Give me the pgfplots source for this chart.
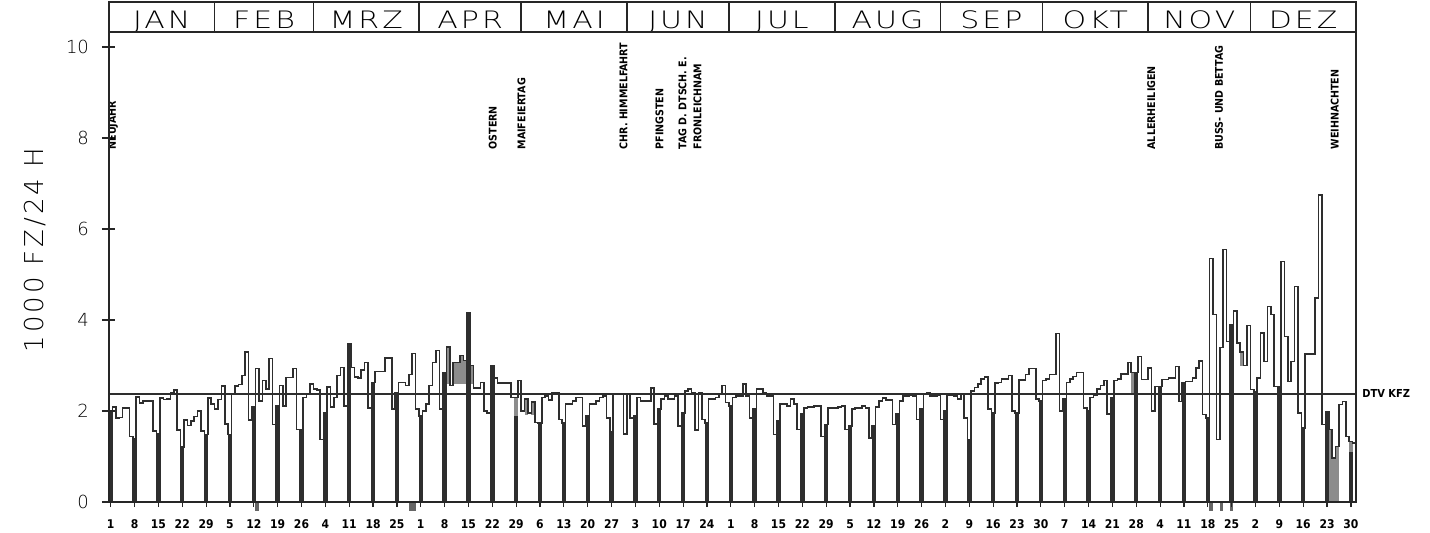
\documentclass[border=0pt]{standalone}
\usepackage{fontspec}
\usepackage{pgfplots}
\usepackage{pgfplotstable}
\pgfplotsset{compat=1.18}
\setmainfont{DejaVu Sans}
\IfFontExistsTF{DejaVu Sans ExtraLight}{\def\thinname{DejaVu Sans ExtraLight}}{\def\thinname{DejaVu Sans}}
\newfontfamily\thinf{\thinname}
\newfontfamily\thinw{\thinname}[LetterSpace=10]
\newfontfamily\thinl{\thinname}[LetterSpace=12]
\newfontfamily\cond{DejaVu Sans Condensed}

% daily values (1000 Kfz / 24 h), 1984, one line per week (Sun..Sat)
\pgfplotstableread[row sep=\\]{
v\\
1.96\\2.09\\1.85\\1.86\\2.06\\2.06\\1.44\\
1.40\\2.31\\2.18\\2.22\\2.22\\2.22\\1.56\\
1.50\\2.28\\2.25\\2.26\\2.40\\2.46\\1.58\\
1.21\\1.80\\1.68\\1.78\\1.88\\2.00\\1.56\\
1.48\\2.28\\2.15\\2.05\\2.25\\2.55\\1.72\\
1.48\\2.38\\2.55\\2.58\\2.78\\3.30\\1.80\\
2.10\\2.93\\2.22\\2.67\\2.48\\3.15\\1.70\\
2.11\\2.56\\2.11\\2.74\\2.74\\2.93\\1.59\\
1.59\\2.30\\2.37\\2.59\\2.48\\2.46\\1.37\\
1.96\\2.53\\2.09\\2.30\\2.78\\2.96\\2.11\\
3.48\\2.96\\2.75\\2.73\\2.90\\3.07\\2.07\\
2.63\\2.87\\2.87\\2.87\\3.17\\3.17\\2.04\\
2.41\\2.63\\2.63\\2.56\\2.80\\3.26\\2.04\\
1.89\\2.00\\2.15\\2.56\\3.07\\3.33\\2.04\\
2.85\\3.41\\2.56\\3.07\\3.07\\3.22\\3.11\\
4.15\\3.00\\2.50\\2.50\\2.63\\2.00\\1.96\\
3.00\\2.72\\2.62\\2.62\\2.62\\2.62\\2.30\\
2.30\\2.67\\2.00\\2.26\\1.95\\2.20\\1.75\\
1.74\\2.30\\2.33\\2.24\\2.39\\2.39\\1.81\\
1.74\\2.15\\2.15\\2.22\\2.30\\2.30\\1.67\\
1.89\\2.15\\2.15\\2.22\\2.30\\2.33\\1.85\\
1.55\\2.36\\2.36\\2.36\\1.50\\2.36\\1.85\\
1.89\\2.30\\2.22\\2.22\\2.22\\2.50\\1.72\\
2.04\\2.26\\2.33\\2.26\\2.26\\2.33\\1.67\\
1.96\\2.44\\2.48\\2.41\\1.58\\2.41\\1.81\\
1.74\\2.26\\2.26\\2.30\\2.37\\2.56\\2.19\\
2.11\\2.30\\2.33\\2.33\\2.59\\2.33\\1.85\\
2.04\\2.48\\2.48\\2.41\\2.33\\2.33\\1.48\\
1.78\\2.15\\2.15\\2.11\\2.26\\2.15\\1.59\\
1.93\\2.07\\2.09\\2.09\\2.11\\2.11\\1.44\\
1.70\\2.07\\2.06\\2.06\\2.09\\2.11\\1.59\\
1.67\\2.04\\2.07\\2.07\\2.11\\2.07\\1.41\\
1.67\\2.09\\2.22\\2.28\\2.24\\2.24\\1.70\\
1.93\\2.22\\2.33\\2.33\\2.35\\2.33\\1.81\\
2.04\\2.37\\2.41\\2.33\\2.33\\2.35\\1.81\\
2.00\\2.35\\2.35\\2.33\\2.26\\2.37\\1.85\\
1.37\\2.44\\2.52\\2.59\\2.70\\2.75\\2.05\\
1.96\\2.61\\2.63\\2.70\\2.70\\2.78\\2.00\\
1.96\\2.68\\2.68\\2.80\\2.93\\2.93\\2.26\\
2.22\\2.67\\2.70\\2.80\\2.80\\3.70\\2.00\\
2.26\\2.63\\2.70\\2.76\\2.85\\2.85\\2.07\\
2.00\\2.30\\2.35\\2.48\\2.56\\2.67\\1.93\\
2.30\\2.67\\2.70\\2.81\\2.81\\3.07\\2.85\\
2.85\\3.20\\2.69\\2.69\\2.95\\2.00\\2.54\\
2.54\\2.69\\2.69\\2.72\\2.72\\2.98\\2.21\\
2.62\\2.65\\2.65\\2.72\\2.94\\3.10\\1.92\\
1.85\\5.35\\4.12\\1.37\\3.40\\5.55\\3.53\\
3.90\\4.20\\3.50\\3.30\\3.00\\3.88\\2.47\\
2.43\\2.72\\3.71\\3.09\\4.30\\4.12\\2.54\\
2.54\\5.29\\3.64\\2.65\\3.09\\4.74\\1.96\\
1.63\\3.25\\3.25\\3.25\\4.48\\6.75\\1.70\\
1.99\\1.59\\0.97\\1.22\\2.14\\2.21\\1.44\\
1.33\\1.30\\1.30\\
}\daily

% Sundays (dark bars)
\pgfplotstableread[row sep=\\]{
s\\
1.96\\1.40\\1.50\\1.21\\1.48\\1.48\\2.10\\2.11\\1.59\\1.96\\3.48\\2.63\\2.41\\1.89\\
2.85\\4.15\\3.00\\1.89\\1.74\\1.74\\1.89\\1.55\\1.89\\2.04\\1.96\\1.74\\2.11\\2.04\\
1.78\\1.93\\1.70\\1.67\\1.67\\1.93\\2.04\\2.00\\1.37\\1.96\\1.96\\2.22\\2.26\\2.00\\
2.30\\2.85\\2.54\\2.62\\1.85\\3.90\\2.43\\2.54\\1.63\\1.99\\1.11\\
}\sunday

% grey shaded parts
\pgfplotstableread[row sep=\\]{
t hi lo\\
99.5 3.41 2.60\\
101.5 3.07 2.60\\
102.5 3.07 2.60\\
103.5 3.22 2.60\\
104.5 3.11 2.60\\
106.5 3.00 2.60\\
119.5 2.30 0\\
122.5 2.26 1.92\\
124.5 2.20 1.92\\
300.5 2.85 2.36\\
332.5 3.30 3.00\\
358.5 1.59 0\\
359.5 0.97 0\\
360.5 1.22 0\\
364.5 1.33 0\\
}\greyparts

% small marks below the axis
\pgfplotstableread[row sep=\\]{
t n\\
43.5 -0.2\\
88.5 -0.2\\
89.5 -0.2\\
323.5 -0.2\\
326.5 -0.2\\
329.5 -0.2\\
}\below

\begin{document}
\begin{tikzpicture}
\useasboundingbox (-54.5pt,-15pt) rectangle (660.5pt,251pt);
\begin{axis}[
  at={(0,0)}, anchor=south west,
  scale only axis, width=623.5pt, height=235pt,
  xmin=0, xmax=366, ymin=0, ymax=10.33,
  clip=false, axis on top,
  axis line style={line width=0.7pt, black!85},
  xtick={0.5,7.5,...,365},
  xticklabels={1,8,15,22,29,5,12,19,26,4,11,18,25,1,8,15,22,29,6,13,20,27,3,10,17,24,1,8,15,22,29,5,12,19,26,2,9,16,23,30,7,14,21,28,4,11,18,25,2,9,16,23,30},
  ytick={0,2,4,6,8,10},
  tick pos=left,
  tick align=outside, major tick length=2.5pt,
  xtick style={line width=0.6pt, black!85},
  ytick style={draw=none},
  yticklabel style={font=\thinf\fontsize{9}{9}\selectfont, xshift=-4pt},
  xticklabel style={font=\cond\bfseries\fontsize{6}{6}\selectfont, yshift=-3pt},
  /pgf/number format/assume math mode=true,
]
% grey shading
\addplot[ycomb, mark=none, line width=1.8pt, black!45] table[x=t, y=hi] {\greyparts};
\addplot[ycomb, mark=none, line width=1.9pt, white] table[x=t, y=lo] {\greyparts};
% Sundays
\addplot[ycomb, mark=none, line width=2.2pt, black!82] table[x expr=\coordindex*7+0.5, y=s] {\sunday};
\addplot[ycomb, mark=none, line width=1.8pt, black!60] table[x=t, y=n] {\below};
% daily step line
\addplot[const plot, mark=none, line width=0.8pt, black!82] table[x expr=\coordindex, y=v] {\daily};
% DTV line
\addplot[mark=none, line width=0.8pt, black!82] coordinates {(0,2.38) (366,2.38)};
\node[anchor=west, inner sep=0pt, font=\cond\bfseries\fontsize{5.5}{5.5}\selectfont] at ([xshift=3pt]axis cs:366,2.38) {DTV KFZ};

% y ticks (crossing the axis)
\pgfplotsinvokeforeach{0,2,4,6,8,10}{
  \draw[line width=0.7pt, black!85] ([xshift=-3.5pt]axis cs:0,#1) -- ([xshift=3pt]axis cs:0,#1);
}

% month band
\draw[line width=0.8pt, black!85] (axis cs:0,10.33) rectangle (axis cs:366,10.99);
\pgfplotsinvokeforeach{31,60,91,121,152,182,213,244,274,305,335}{
  \draw[line width=0.8pt, black!85] (axis cs:#1,10.33) -- (axis cs:#1,10.99);
}
\tikzset{mon/.style={anchor=base, inner sep=0pt, xscale=1.25, font=\thinw\fontsize{12}{12}\selectfont}}
\node[mon] at (axis cs:15.5,10.40) {JAN};
\node[mon] at (axis cs:45.5,10.40) {FEB};
\node[mon] at (axis cs:75.5,10.40) {MRZ};
\node[mon] at (axis cs:106,10.40) {APR};
\node[mon] at (axis cs:136.5,10.40) {MAI};
\node[mon] at (axis cs:167,10.40) {JUN};
\node[mon] at (axis cs:197.5,10.40) {JUL};
\node[mon] at (axis cs:228.5,10.40) {AUG};
\node[mon] at (axis cs:259,10.40) {SEP};
\node[mon] at (axis cs:289.5,10.40) {OKT};
\node[mon] at (axis cs:320,10.40) {NOV};
\node[mon] at (axis cs:350.5,10.40) {DEZ};

% holidays
\tikzset{hol/.style={rotate=90, anchor=west, inner sep=0pt, font=\cond\bfseries\fontsize{5.3}{5.3}\selectfont}}
\node[hol] at (axis cs:1.2,7.74) {NEUJAHR};
\node[hol] at (axis cs:112.6,7.74) {OSTERN};
\node[hol] at (axis cs:121.1,7.74) {MAIFEIERTAG};
\node[hol] at (axis cs:151.0,7.74) {CHR. HIMMELFAHRT};
\node[hol] at (axis cs:161.6,7.74) {PFINGSTEN};
\node[hol] at (axis cs:168.3,7.74) {TAG D. DTSCH. E.};
\node[hol] at (axis cs:172.7,7.74) {FRONLEICHNAM};
\node[hol] at (axis cs:305.9,7.74) {ALLERHEILIGEN};
\node[hol] at (axis cs:325.8,7.74) {BUSS- UND BETTAG};
\node[hol] at (axis cs:359.8,7.74) {WEIHNACHTEN};

% y label
\node[rotate=90, inner sep=0pt, font=\thinl\fontsize{13}{13}\selectfont] at ([xshift=-37pt]axis cs:0,5.54) {1000 FZ/24 H};
\end{axis}
\end{tikzpicture}
\end{document}
